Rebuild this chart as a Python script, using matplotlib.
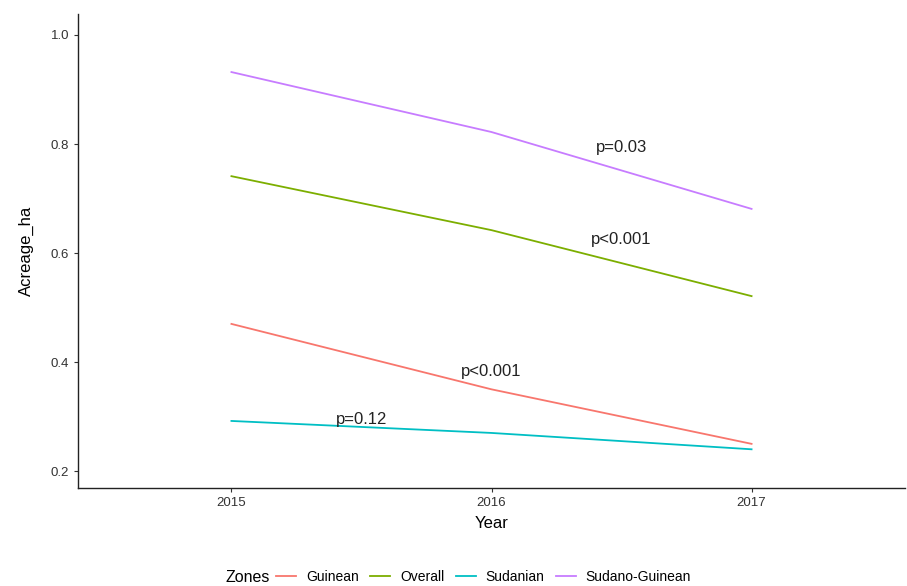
import matplotlib.pyplot as plt

plt.rcParams["font.family"] = ["Liberation Sans", "DejaVu Sans"]

years = [2015, 2016, 2017]
zones = ["Guinean", "Overall", "Sudanian", "Sudano-Guinean"]
colors = ["#F8766D", "#7CAE00", "#00BFC4", "#C77CFF"]
guinean = [0.470, 0.350, 0.250]
overall = [0.741, 0.642, 0.521]
sudanian = [0.292, 0.270, 0.240]
sudano_guinean = [0.932, 0.822, 0.681]

labels_p = ["p<0.001", "p<0.001", "p=0.12", "p=0.03"]
label_x = [2016.0, 2016.5, 2015.5, 2016.5]
label_y = [0.383, 0.624, 0.295, 0.794]

series = [guinean, overall, sudanian, sudano_guinean]

fig = plt.figure(figsize=(9.07, 5.86), dpi=100)
ax = fig.add_axes([78 / 907, 1 - 488 / 586, 827 / 907, 474 / 586])

for name, vals, c in zip(zones, series, colors):
    ax.plot(years, vals, color=c, lw=1.3, label=name)

for txt, x, y in zip(labels_p, label_x, label_y):
    ax.text(x, y, txt, ha="center", va="center", fontsize=12, color="#222222")

ax.set_xlim(2014.41, 2017.59)
ax.set_ylim(0.169, 1.0385)
ax.set_xticks(years)
ax.set_yticks([0.2, 0.4, 0.6, 0.8, 1.0])
ax.set_yticklabels(["0.2", "0.4", "0.6", "0.8", "1.0"])
ax.tick_params(labelsize=9.5, colors="#333333", length=3, width=0.8)
for s in ["top", "right"]:
    ax.spines[s].set_visible(False)
for s in ["left", "bottom"]:
    ax.spines[s].set_linewidth(1.0)
    ax.spines[s].set_color("#222222")
ax.set_xlabel("Year", fontsize=12, labelpad=5)
ax.set_ylabel("Acreage_ha", fontsize=12, labelpad=12)

fig.text(225 / 907, 1 - 577 / 586, "Zones", fontsize=11.5, va="center", ha="left")
fig.legend(loc="center left", bbox_to_anchor=(276 / 907, 1 - 577 / 586), ncol=4,
           frameon=False, fontsize=10, handlelength=1.45, handletextpad=0.72,
           columnspacing=0.8, borderaxespad=0, borderpad=0)

fig.savefig("out.png", dpi=100)
